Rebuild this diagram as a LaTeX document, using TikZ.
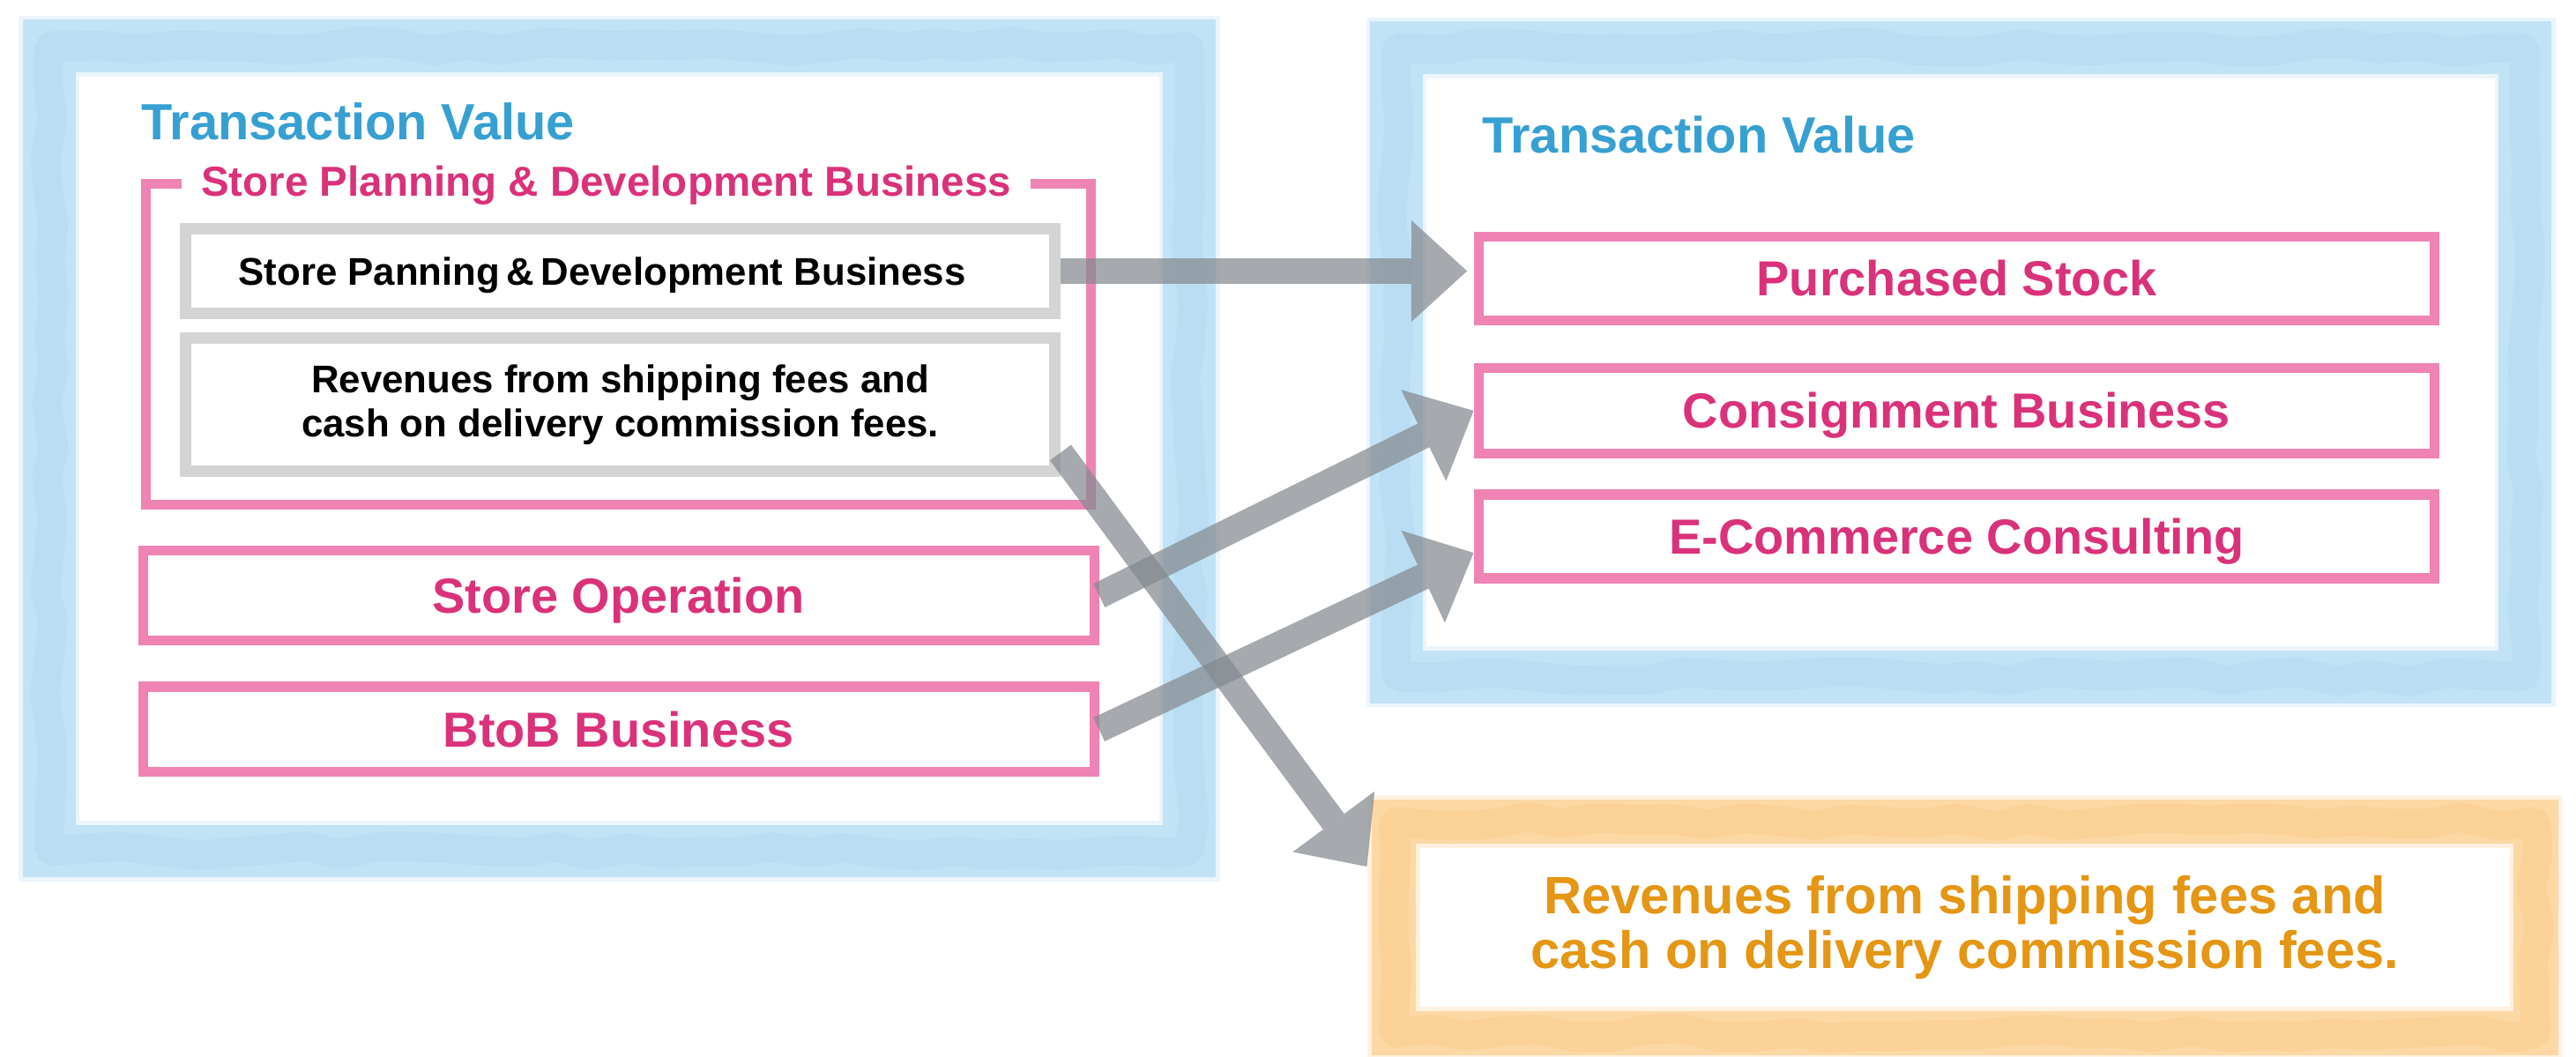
\documentclass[tikz,border=0pt]{standalone}
\usepackage{fontspec}
\setmainfont{Liberation Sans}
\usetikzlibrary{arrows.meta,decorations.pathmorphing}

\definecolor{wblue}{RGB}{190,224,245}
\definecolor{wbluedeep}{RGB}{150,202,236}
\definecolor{tblue}{RGB}{55,160,210}
\definecolor{wpink}{RGB}{238,118,172}
\definecolor{tpink}{RGB}{218,50,122}
\definecolor{wgray}{RGB}{212,212,212}
\definecolor{worange}{RGB}{252,210,150}
\definecolor{worangedeep}{RGB}{246,182,96}
\definecolor{torange}{RGB}{228,150,20}
\definecolor{agray}{RGB}{132,138,144}

\newcommand\fTitle{\fontsize{31}{37}\selectfont\bfseries}
\newcommand\fBox{\fontsize{30}{36}\selectfont\bfseries}
\newcommand\fSub{\fontsize{25.5}{30}\selectfont\bfseries}
\newcommand\fBlack{\fontsize{23.5}{27}\selectfont\bfseries}
\newcommand\fRev{\fontsize{32}{33}\selectfont\bfseries}

\begin{document}
\begin{tikzpicture}[x=1pt,y=-1pt,
  texture/.style={draw=#1, draw opacity=0.18, line width=18pt, rounded corners=3pt,
    decorate, decoration={random steps, segment length=22pt, amplitude=3pt}},
  bluewash/.style={draw=wblue, line width=32pt, draw opacity=0.9,
    preaction={draw=wblue, draw opacity=0.3, line width=37pt},
    postaction={texture=wbluedeep}},
  orangewash/.style={draw=worange, line width=27pt, draw opacity=0.8,
    preaction={draw=worange, draw opacity=0.3, line width=32pt},
    postaction={texture=worangedeep}},
  pinkline/.style={draw=wpink, line width=6pt, draw opacity=0.9},
  pinkbox/.style={pinkline, text=tpink, font=\fBox, minimum width=579pt,
    text height=21.5pt, text depth=0pt},
  grayframe/.style={draw=wgray, line width=7pt, minimum width=529pt},
  arrowline/.style={draw=agray, opacity=0.72, line width=16pt,
    -{Triangle[length=34pt,width=62pt,line width=0pt]}}
]
\pgfmathsetseed{12}
\useasboundingbox (0,0) rectangle (1568,643);
\fill[white] (0,0) rectangle (1568,643);

% watercolour frames
\node[bluewash, minimum width=694pt, minimum height=490pt] (lf) at (377,273) {};
\node[bluewash, minimum width=687pt, minimum height=383pt] (rf) at (1193.5,220.5) {};
\node[orangewash, minimum width=695pt, minimum height=129pt, text=torange,
  font=\fRev, align=center] (rv) at (1196,564.5)
  {Revenues from shipping fees and\\cash on delivery commission fees.};

% frame titles
\node[anchor=west, inner sep=0pt, text=tblue, font=\fTitle] (lt) at (86,74) {Transaction Value};
\node[anchor=west, inner sep=0pt, text=tblue, font=\fTitle] (rt) at (902,82) {Transaction Value};

% store planning group
\node[pinkline, minimum width=575pt, minimum height=195pt] (sp) at (376.5,209.5) {};
\node[fill=white, inner xsep=12pt, inner ysep=1pt, text=tpink, font=\fSub] (spt) at (369,113)
  {Store Planning \& Development Business};
\node[grayframe, minimum height=52pt, font=\fBlack, text height=17pt, text depth=0pt] (g1)
  at (377.5,165) {\hspace*{-22pt}Store Panning\,\&\,Development Business};
\node[grayframe, minimum height=81pt, font=\fBlack, align=center] (g2) at (377.5,246.5)
  {Revenues from shipping fees and\\cash on delivery commission fees.};

% business boxes, left
\node[pinkbox, minimum height=55pt] (so) at (376.5,362.5) {Store Operation};
\node[pinkbox, minimum height=52pt] (bb) at (376.5,444) {BtoB Business};

% business boxes, right
\node[pinkbox, minimum width=582pt, minimum height=51pt] (ps) at (1191,169.5) {Purchased Stock};
\node[pinkbox, minimum width=582pt, minimum height=52pt] (cb) at (1191,250) {Consignment Business};
\node[pinkbox, minimum width=582pt, minimum height=51pt] (ec) at (1191,326.5) {E-Commerce Consulting};

% connectors
\draw[arrowline, shorten >=4pt] (g1.east) -- (g1.east -| ps.west);
\draw[arrowline] (so.east) -- (cb.west);
\draw[arrowline] (bb.east) -- ([yshift=-10pt]ec.west);
\draw[arrowline] ([yshift=15pt]g2.south east) -- ([xshift=-3pt,yshift=-41pt]rv.north west);
\end{tikzpicture}
\end{document}
